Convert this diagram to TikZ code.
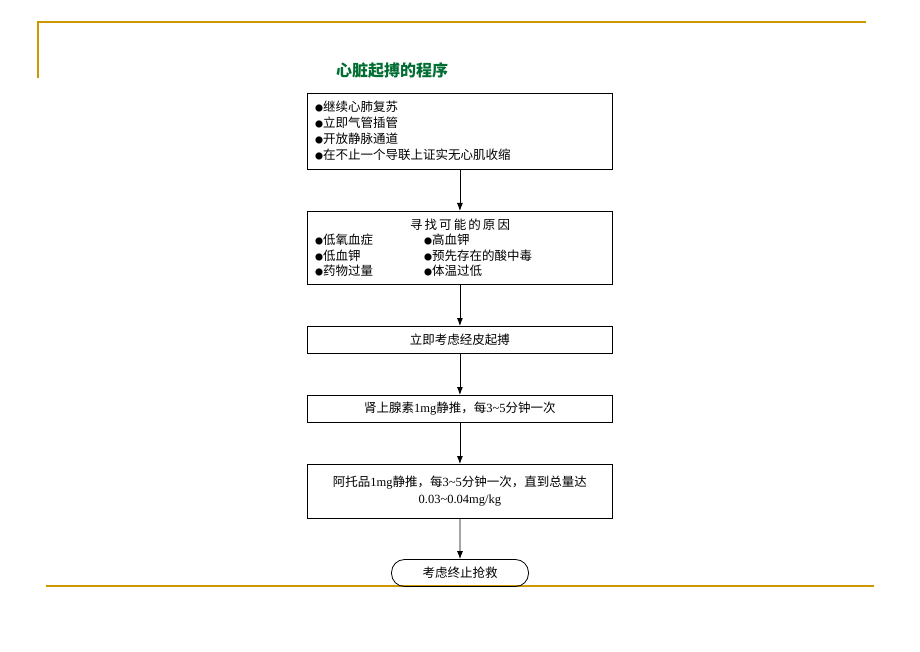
\documentclass[tikz,border=0pt]{standalone}
\usepackage{fontspec}
\usetikzlibrary{arrows.meta}
\setmainfont{Liberation Serif}
\newfontfamily\cjk{Noto Sans CJK SC}
\newcommand{\bul}{{\fontsize{8}{8}\selectfont●}}
\begin{document}
\begin{tikzpicture}[x=1pt,y=-1pt,
  box/.style={draw,line width=0.8pt},
  txt/.style={font=\cjk\fontsize{12.5}{15}\selectfont,inner sep=0pt,anchor=west},
  ctr/.style={font=\fontsize{12.5}{17}\selectfont,inner sep=0pt,align=center},
  arr/.style={-{Latex[length=8pt,width=6pt]},line width=0.8pt},
  gold/.style={draw={rgb,255:red,204;green,153;blue,0},line width=1.2pt}]
\useasboundingbox (0,0) rectangle (920,652);
\draw[gold] (38,78) -- (38,22) -- (866,22);
\draw[gold] (46,586) -- (874,586);
\node[font=\cjk\fontsize{16}{18}\selectfont\bfseries,text={rgb,255:red,0;green,110;blue,50}] (t) at (392,70) {心脏起搏的程序};
\node[box,minimum width=305,minimum height=76,anchor=north west] (b1) at (307,93) {};
\foreach \s/\y in {继续心肺复苏/107,立即气管插管/123,开放静脉通道/139,在不止一个导联上证实无心肌收缩/155}
  \node[txt] at (315,\y) {\bul\s};
\node[box,minimum width=305,minimum height=73,anchor=north west] (b2) at (307,211) {};
\node[ctr,font=\cjk\fontsize{12.5}{15}\selectfont] at (460,225) {寻\,找\,可\,能\,的\,原\,因};
\foreach \s/\y in {低氧血症/240,低血钾/256,药物过量/271}
  \node[txt] at (315,\y) {\bul\s};
\foreach \s/\y in {高血钾/240,预先存在的酸中毒/256,体温过低/271}
  \node[txt] at (424,\y) {\bul\s};
\node[box,minimum width=305,minimum height=27,anchor=north west] (b3) at (307,326) {};
\node[ctr] at (b3) {{\cjk 立即考虑经皮起搏}};
\node[box,minimum width=305,minimum height=27,anchor=north west] (b4) at (307,395) {};
\node[ctr] at (b4) {{\cjk 肾上腺素}1mg{\cjk 静推，每}3\textasciitilde5{\cjk 分钟一次}};
\node[box,minimum width=305,minimum height=54,anchor=north west] (b5) at (307,464) {};
\node[ctr] at (b5) {{\cjk 阿托品}1mg{\cjk 静推，每}3\textasciitilde5{\cjk 分钟一次，直到总量达}\\0.03\textasciitilde0.04mg/kg};
\node[box,rounded corners=13pt,minimum width=137,minimum height=27] (b6) at (460,573) {\fontsize{12.5}{15}\selectfont\cjk 考虑终止抢救};
\draw[arr] (b1.south) -- (b2.north);
\draw[arr] (b2.south) -- (b3.north);
\draw[arr] (b3.south) -- (b4.north);
\draw[arr] (b4.south) -- (b5.north);
\draw[arr] (b5.south) -- (b6.north);
\end{tikzpicture}
\end{document}
